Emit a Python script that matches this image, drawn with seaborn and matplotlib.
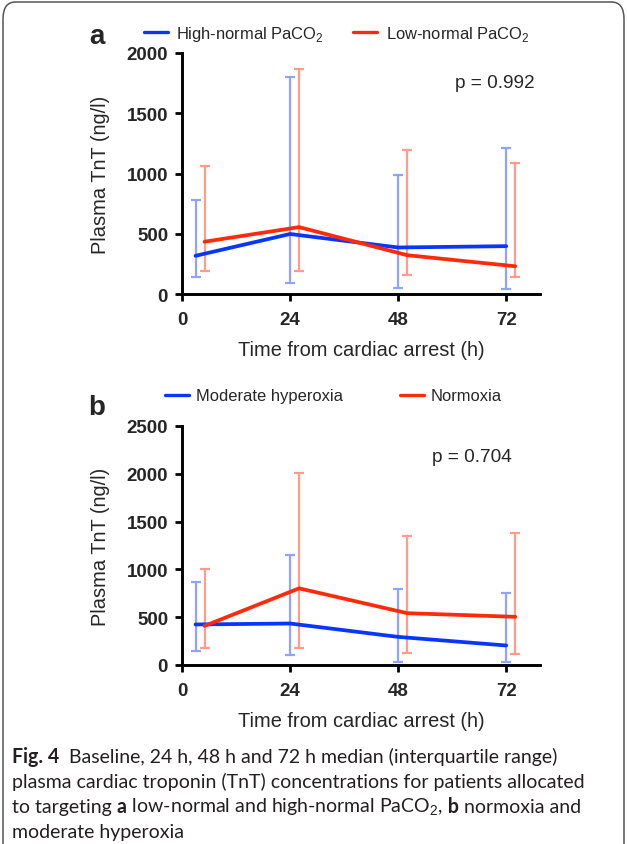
import numpy as np
import pandas as pd
import seaborn as sns
import matplotlib.pyplot as plt
from matplotlib.patches import FancyBboxPatch

# panel a: PaCO2 groups
hours_blue = [3, 24, 48, 72]
hours_red = [5, 26, 50, 74]
a_high_med = [317, 498, 386, 397]
a_high_lo = [140, 92, 50, 42]
a_high_hi = [784, 1798, 989, 1213]
a_low_med = [434, 555, 322, 230]
a_low_lo = [193, 190, 157, 137]
a_low_hi = [1064, 1871, 1196, 1090]

# panel b: oxygen groups
b_hyp_med = [424, 434, 294, 204]
b_hyp_lo = [144, 105, 36, 36]
b_hyp_hi = [871, 1151, 797, 749]
b_norm_med = [409, 802, 542, 504]
b_norm_lo = [182, 175, 123, 112]
b_norm_hi = [1007, 2008, 1354, 1379]

a_names = ["High-normal PaCO$_2$", "Low-normal PaCO$_2$"]
b_names = ["Moderate hyperoxia", "Normoxia"]
a_p = "p = 0.992"
b_p = "p = 0.704"
xticks = [0, 24, 48, 72]

BLUE = "#0a35ff"
RED = "#ff2a0a"
BLUE_L = "#8fa3ff"
RED_L = "#ff9c8c"

sns.set_style("ticks")
plt.rcParams["font.family"] = ["Liberation Sans", "DejaVu Sans"]
plt.rcParams["mathtext.fontset"] = "custom"
plt.rcParams["mathtext.rm"] = "Liberation Sans"

W, H = 627, 845
fig = plt.figure(figsize=(W / 100, H / 100), dpi=100)

def px_axes(x0, y_top, x1, y_bot):
    return fig.add_axes([x0 / W, 1 - y_bot / H, (x1 - x0) / W, (y_bot - y_top) / H])


def panel(ax, names, med1, lo1, hi1, med2, lo2, hi2, ymax, step):
    df = pd.DataFrame({
        "hours": hours_blue + hours_red,
        "TnT": med1 + med2,
        "group": [names[0]] * 4 + [names[1]] * 4,
    })
    for h, m, lo, hi, c in [(hours_blue, med1, lo1, hi1, BLUE_L), (hours_red, med2, lo2, hi2, RED_L)]:
        m = np.array(m)
        ax.errorbar(h, m, yerr=[m - np.array(lo), np.array(hi) - m], fmt="none",
                    ecolor=c, elinewidth=1.6, capsize=3.6, capthick=1.6, zorder=1)
    sns.lineplot(data=df, x="hours", y="TnT", hue="group", palette=[BLUE, RED],
                 linewidth=2.7, ax=ax, zorder=3, legend=True)
    ax.set_xlim(0, 79.5)
    ax.set_ylim(0, ymax)
    ax.set_xticks(xticks)
    ax.set_yticks(np.arange(0, ymax + 1, step))
    sns.despine(ax=ax)
    for s in ["left", "bottom"]:
        ax.spines[s].set_linewidth(2.1)
        ax.spines[s].set_color("black")
    ax.tick_params(width=2.0, length=5, labelsize=13.5, color="black")
    ax.tick_params(axis="x", pad=7.5)
    ax.tick_params(axis="y", pad=5)
    for lab in ax.get_xticklabels() + ax.get_yticklabels():
        lab.set_fontweight("bold")
    ax.set_xlabel("Time from cardiac arrest (h)", fontsize=14.4, va="center")
    ax.set_ylabel("Plasma TnT (ng/l)", fontsize=14.4, va="center")
    ax.yaxis.set_label_coords((100 - 182) / 358, 0.5)
    ax.set_facecolor("none")


def legend_at(ax, x_px, y_px, pad, spacing):
    sns.move_legend(ax, "center left", bbox_to_anchor=(x_px / W, 1 - y_px / H),
                    bbox_transform=fig.transFigure, ncol=2, frameon=False, title=None,
                    fontsize=11.9, handlelength=1.45, handletextpad=pad,
                    columnspacing=spacing, borderaxespad=0, borderpad=0)
    for ln in ax.get_legend().get_lines():
        ln.set_linewidth(2.4)


ax_a = px_axes(182, 54, 540, 295)
panel(ax_a, a_names, a_high_med, a_high_lo, a_high_hi, a_low_med, a_low_lo, a_low_hi, 2000, 500)
ax_a.xaxis.set_label_coords(0.5, -(351 - 295) / 241)
legend_at(ax_a, 144, 34, 0.5, 1.8)
ax_a.text(535 / W, 1 - 84 / H, a_p, transform=fig.transFigure, fontsize=13.7, ha="right", va="center")

ax_b = px_axes(182, 427, 540, 666)
panel(ax_b, b_names, b_hyp_med, b_hyp_lo, b_hyp_hi, b_norm_med, b_norm_lo, b_norm_hi, 2500, 500)
ax_b.xaxis.set_label_coords(0.5, -(722 - 666) / 239)
legend_at(ax_b, 165, 397, 0.45, 3.4)
ax_b.text(512 / W, 1 - 458 / H, b_p, transform=fig.transFigure, fontsize=13.7, ha="right", va="center")

fig.text(97 / W, 1 - 37 / H, "a", fontsize=20, fontweight="bold", ha="center", va="center")
fig.text(97 / W, 1 - 408 / H, "b", fontsize=20, fontweight="bold", ha="center", va="center")

# outer frame
fig.patches.append(FancyBboxPatch((3 / W, -0.05), 621 / W, 1.05 - 3 / H,
                                  boxstyle="round,pad=0,rounding_size=0.02",
                                  transform=fig.transFigure, fill=False,
                                  edgecolor="#555555", linewidth=1.1))

# caption with bold runs, sized so the second line spans the same width
cap_font = ["Lato", "DejaVu Sans"]
renderer = fig.canvas.get_renderer()
probe = fig.text(0, 0, "plasma cardiac troponin (TnT) concentrations for patients allocated",
                 fontsize=10, family=cap_font)
cap_size = 10 * 574 / probe.get_window_extent(renderer).width
probe.remove()
lines = [
    [("Fig. 4", "bold"), ("  Baseline, 24 h, 48 h and 72 h median (interquartile range)", "normal")],
    [("plasma cardiac troponin (TnT) concentrations for patients allocated", "normal")],
    [("to targeting ", "normal"), ("a", "bold"), (" low-normal and high-normal PaCO$_2$,", "normal"),
     (" b", "bold"), (" normoxia and", "normal")],
    [("moderate hyperoxia", "normal")],
]
baselines = [763, 788, 813, 838]
for runs, yb in zip(lines, baselines):
    x = 12
    for txt, wt in runs:
        t = fig.text(x / W, 1 - yb / H, txt, fontsize=cap_size, fontweight=wt,
                     family=cap_font, va="baseline", ha="left", color="#231f20")
        x += t.get_window_extent(renderer).width

fig.savefig("out.png", dpi=100)
